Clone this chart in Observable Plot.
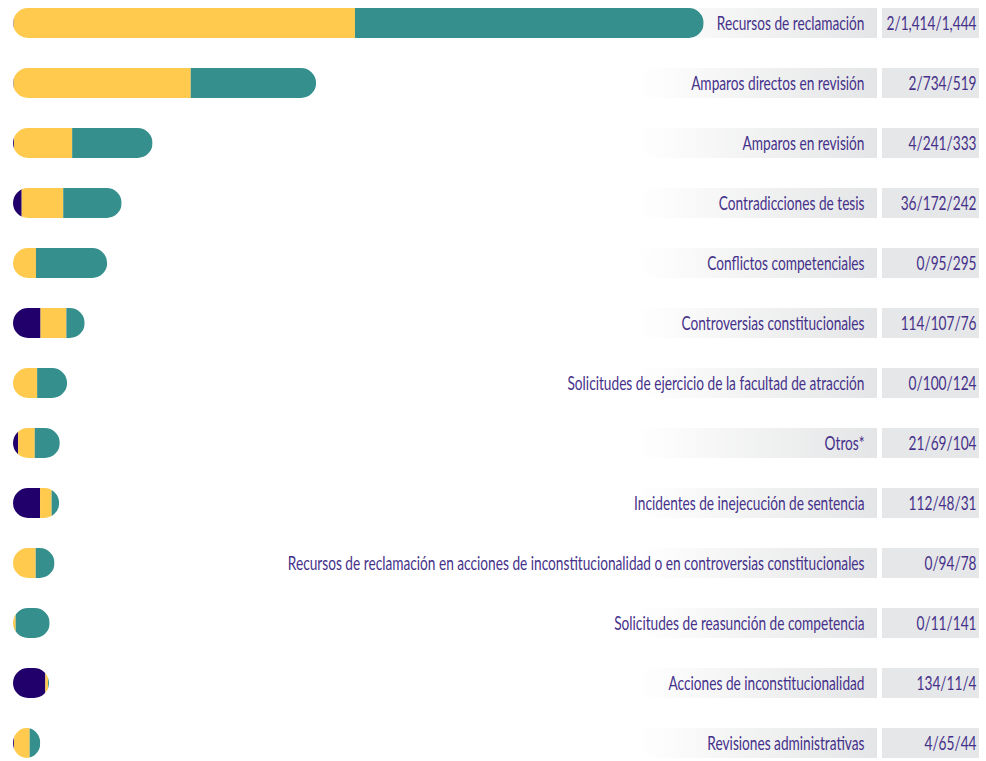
<!DOCTYPE html>
<html>
<head>
<meta charset="utf-8">
<script src="https://cdn.jsdelivr.net/npm/d3@7"></script>
<script src="https://cdn.jsdelivr.net/npm/@observablehq/plot@0.6"></script>
<style>
html, body { margin: 0; padding: 0; background: #ffffff; }
#chart svg { display: block; }
</style>
</head>
<body>
<div id="chart"></div>
<script>
// ---- Data ----
const categorias = [
  "Recursos de reclamación",
  "Amparos directos en revisión",
  "Amparos en revisión",
  "Contradicciones de tesis",
  "Conflictos competenciales",
  "Controversias constitucionales",
  "Solicitudes de ejercicio de la facultad de atracción",
  "Otros*",
  "Incidentes de inejecución de sentencia",
  "Recursos de reclamación en acciones de inconstitucionalidad o en controversias constitucionales",
  "Solicitudes de reasunción de competencia",
  "Acciones de inconstitucionalidad",
  "Revisiones administrativas"
];
const serie1 = [2, 2, 4, 36, 0, 114, 0, 21, 112, 0, 0, 134, 4];
const serie2 = [1414, 734, 241, 172, 95, 107, 100, 69, 48, 94, 11, 11, 65];
const serie3 = [1444, 519, 333, 242, 295, 76, 124, 104, 31, 78, 141, 4, 44];
const series = ["serie1", "serie2", "serie3"];
const colores = ["#22006b", "#ffca4e", "#358f8c"];

// ---- Derived tables ----
const fmt = d3.format(",");
const filas = categorias.map((c, i) => ({
  categoria: c,
  total: serie1[i] + serie2[i] + serie3[i],
  etiqueta: [serie1[i], serie2[i], serie3[i]].map(fmt).join("/")
}));
const largo = categorias.flatMap((c, i) =>
  [serie1[i], serie2[i], serie3[i]].map((v, j) => ({categoria: c, serie: series[j], valor: v}))
);

const textoColor = "#45318a";
const fuente = "Lato, 'Open Sans', sans-serif";

const plot = Plot.plot({
  width: 986,
  height: 761,
  marginLeft: 13,
  marginRight: 7,
  marginTop: 5.5,
  marginBottom: 1.5,
  x: {domain: [0, 4000], axis: null},
  y: {domain: categorias, axis: null, paddingInner: 0.5, paddingOuter: 0, align: 0.5},
  color: {domain: series, range: colores},
  marks: [
    // label background (gradient) and value box
    Plot.cell(filas, {y: "categoria", fill: "url(#grad-etiqueta)", insetLeft: 625, insetRight: 102}),
    Plot.cell(filas, {y: "categoria", fill: "#e6e7e8", insetLeft: 869, insetRight: 0}),
    // pill outlines (moved into a clipPath afterwards)
    Plot.barX(filas, {y: "categoria", x1: 0, x2: "total", rx: 15, fill: "#000"}),
    // stacked segments
    Plot.barX(largo, Plot.stackX({y: "categoria", x: "valor", fill: "serie", order: series})),
    // labels
    Plot.text(filas, {y: "categoria", text: "categoria", frameAnchor: "right", textAnchor: "end", dx: -115,
      fill: textoColor, fontSize: 19, fontFamily: fuente}),
    Plot.text(filas, {y: "categoria", text: "etiqueta", frameAnchor: "right", textAnchor: "end", dx: -3,
      fill: textoColor, fontSize: 19, fontFamily: fuente})
  ]
});

// ---- post-processing: gradient + pill clip ----
const NS = "http://www.w3.org/2000/svg";
const defs = document.createElementNS(NS, "defs");
const grad = document.createElementNS(NS, "linearGradient");
grad.setAttribute("id", "grad-etiqueta");
grad.setAttribute("x1", "0"); grad.setAttribute("y1", "0");
grad.setAttribute("x2", "1"); grad.setAttribute("y2", "0");
[["0", "#ffffff"], ["1", "#e4e5e6"]].forEach(([o, c]) => {
  const s = document.createElementNS(NS, "stop");
  s.setAttribute("offset", o); s.setAttribute("stop-color", c);
  grad.appendChild(s);
});
defs.appendChild(grad);

const clip = document.createElementNS(NS, "clipPath");
clip.setAttribute("id", "pildoras");
const barGroups = plot.querySelectorAll('g[aria-label="bar"]');
const pillG = barGroups[0], segG = barGroups[1];
if (pillG && segG) {
  Array.from(pillG.querySelectorAll("rect")).forEach(r => clip.appendChild(r));
  pillG.remove();
  segG.setAttribute("clip-path", "url(#pildoras)");
}
defs.appendChild(clip);
plot.insertBefore(defs, plot.firstChild);

document.getElementById("chart").appendChild(plot);

// condensed lettering: compress each text horizontally (Myriad Condensed look)
plot.querySelectorAll('g[aria-label="text"] text').forEach(t => {
  const w = t.getComputedTextLength();
  if (w > 0) {
    t.setAttribute("textLength", (w * 0.72).toFixed(2));
    t.setAttribute("lengthAdjust", "spacingAndGlyphs");
  }
});
</script>
</body>
</html>
